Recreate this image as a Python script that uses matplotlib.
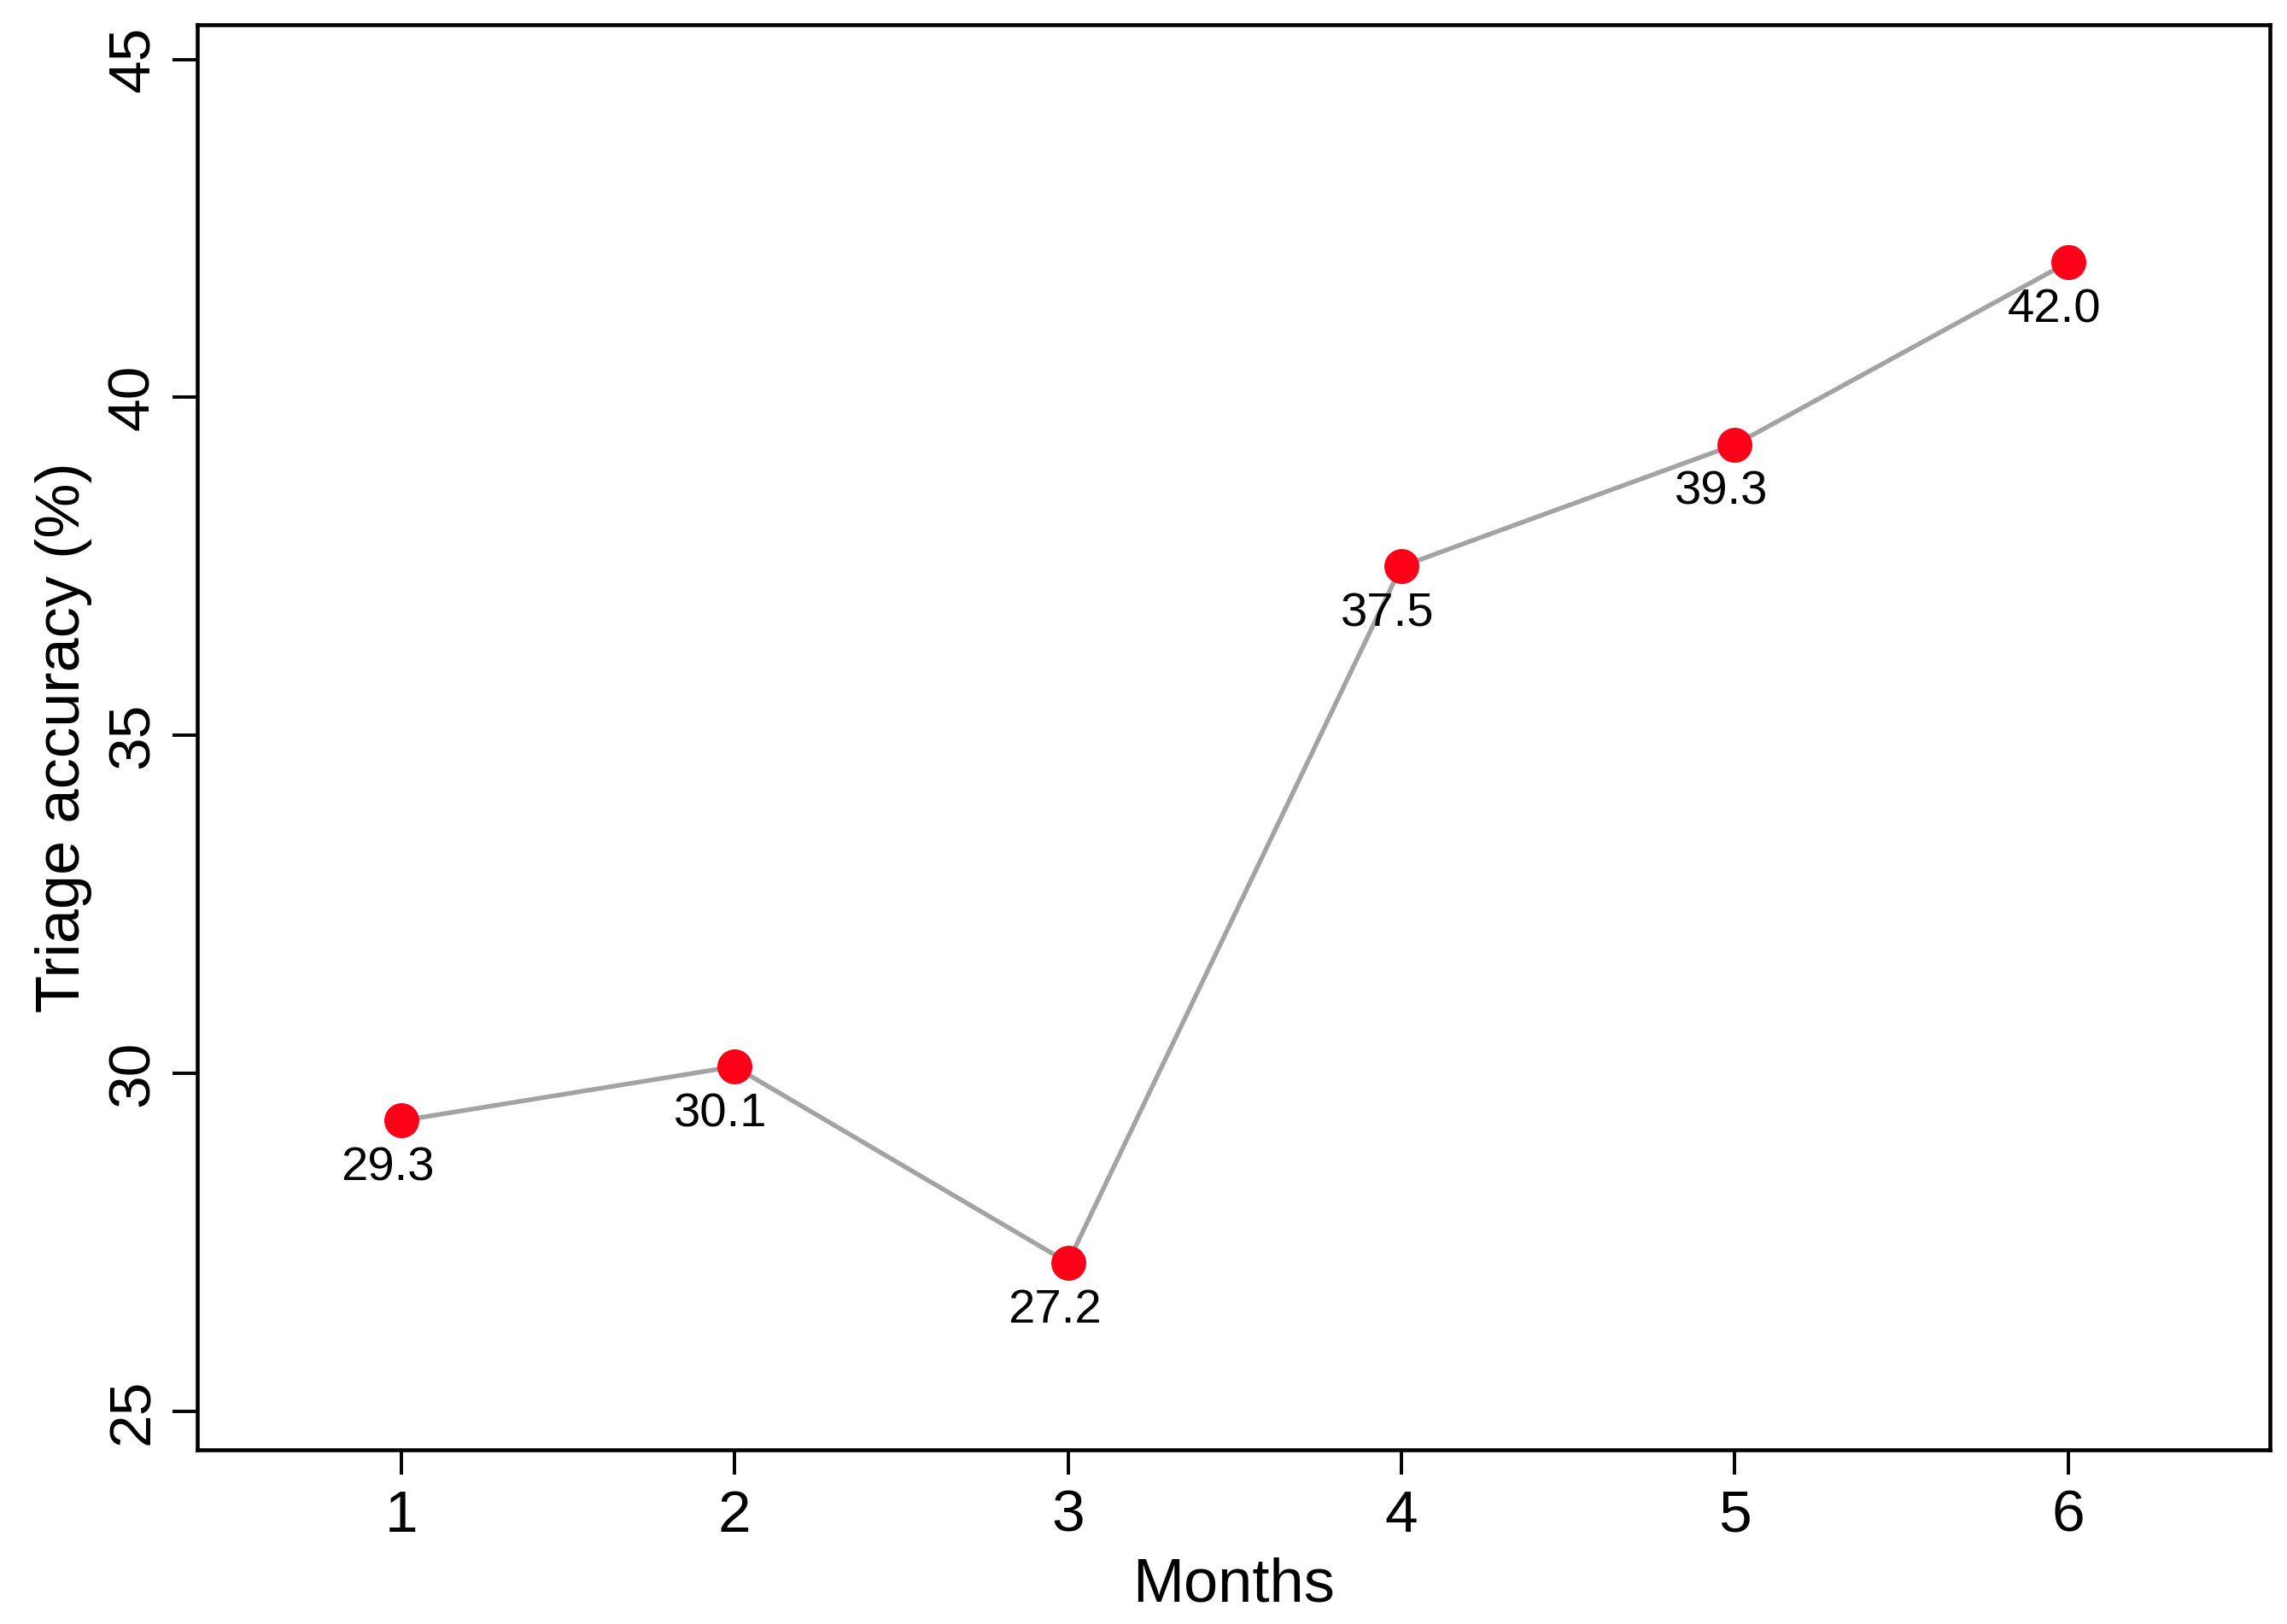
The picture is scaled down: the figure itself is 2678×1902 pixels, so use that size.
import matplotlib
matplotlib.use("Agg")
import matplotlib.pyplot as plt

months = [1, 2, 3, 4, 5, 6]
accuracy = [29.3, 30.1, 27.2, 37.5, 39.3, 42.0]
x_ticks = [1, 2, 3, 4, 5, 6]
y_ticks = [25, 30, 35, 40, 45]
x_label = "Months"
y_label = "Triage accuracy (%)"

plt.rcParams['font.family'] = ['Liberation Sans', 'DejaVu Sans']

W, H = 2678, 1902
dpi = 100
fig = plt.figure(figsize=(W / dpi, H / dpi), dpi=dpi)
fig.patch.set_facecolor('white')

left, right, top, bottom = 230.7, 2658.0, 28.5, 1698.0
ax = fig.add_axes([left / W, 1 - bottom / H, (right - left) / W, (bottom - top) / H])

ax.plot(months, accuracy, color='#A3A3A3', lw=3.9, zorder=2, solid_capstyle='butt')
ax.plot(months, accuracy, 'o', color='#FF0019', markersize=29.5, markeredgewidth=0, zorder=3)

for xv, yv in zip(months, accuracy):
    ax.annotate(f"{yv:.1f}", (xv, yv), xytext=(-16, -70), textcoords='offset pixels',
                ha='center', va='baseline', fontsize=40.5, color='black', zorder=4)

ax.set_xlim(0.388, 6.605)
ax.set_ylim(24.43, 45.52)
ax.set_xticks(x_ticks)
ax.set_xticklabels([str(v) for v in x_ticks])
ax.set_yticks(y_ticks)
ax.set_yticklabels([str(v) for v in y_ticks], rotation=90, va='center')

for s in ax.spines.values():
    s.set_linewidth(3.3)
    s.set_color('black')

ax.tick_params(axis='both', length=20.9, width=2.8, color='black', labelsize=50, direction='out')
ax.tick_params(axis='x', pad=12)
ax.tick_params(axis='y', pad=10)

fig.text((left + right) / 2 / W, 1 - 1875 / H, x_label, ha='center', va='baseline', fontsize=52)
fig.text(75 / W, 1 - (top + bottom) / 2 / H, y_label, ha='center', va='center', rotation=90, fontsize=52)

fig.savefig("out.png", dpi=dpi, facecolor='white')
